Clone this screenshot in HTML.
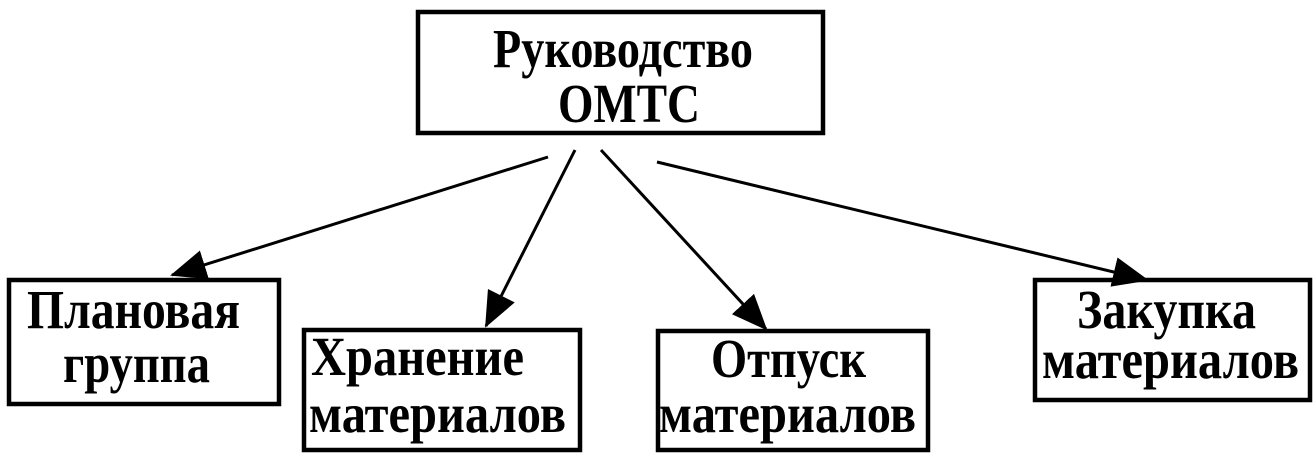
<!DOCTYPE html>
<html><head><meta charset="utf-8"><style>
body{margin:0;background:#fff;}
svg{display:block}
text{font-family:"Liberation Serif","DejaVu Serif",serif;font-weight:bold;font-size:55px;fill:#000}
</style></head><body>
<svg width="1316" height="454" viewBox="0 0 1316 454">
<defs>
<marker id="b" markerWidth="36" markerHeight="30" refX="34" refY="15" orient="auto" markerUnits="userSpaceOnUse"><path d="M0,0 L36,15 L0,30 z"/></marker></defs>
<g fill="none" stroke="#000" stroke-width="4.5">
<rect x="418" y="12" width="405" height="121"/>
<rect x="9" y="280" width="270" height="124"/>
<rect x="304" y="330" width="276" height="120"/>
<rect x="658" y="331" width="270" height="119"/>
<rect x="1035" y="280" width="275" height="120"/>
</g>
<g stroke="#000" stroke-width="3">
<line x1="548" y1="157" x2="172" y2="275" marker-end="url(#b)"/>
<line x1="575" y1="150" x2="486" y2="326" marker-end="url(#b)"/>
<line x1="601" y1="150" x2="766" y2="329" marker-end="url(#b)"/>
<line x1="657" y1="162" x2="1147" y2="280" marker-end="url(#b)"/>
</g>
<text x="493" y="67" textLength="260" lengthAdjust="spacingAndGlyphs">Руководство</text>
<text x="558" y="122" textLength="142" lengthAdjust="spacingAndGlyphs">ОМТС</text>
<text x="27" y="328" textLength="213" lengthAdjust="spacingAndGlyphs">Плановая</text>
<text x="63" y="382" textLength="147" lengthAdjust="spacingAndGlyphs">группа</text>
<text x="311" y="375" textLength="213" lengthAdjust="spacingAndGlyphs">Хранение</text>
<text x="309" y="432" textLength="257" lengthAdjust="spacingAndGlyphs">материалов</text>
<text x="711" y="377" textLength="155" lengthAdjust="spacingAndGlyphs">Отпуск</text>
<text x="659" y="432" textLength="257" lengthAdjust="spacingAndGlyphs">материалов</text>
<text x="1077" y="328" textLength="179" lengthAdjust="spacingAndGlyphs">Закупка</text>
<text x="1042" y="378" textLength="257" lengthAdjust="spacingAndGlyphs">материалов</text>
</svg>
</body></html>
